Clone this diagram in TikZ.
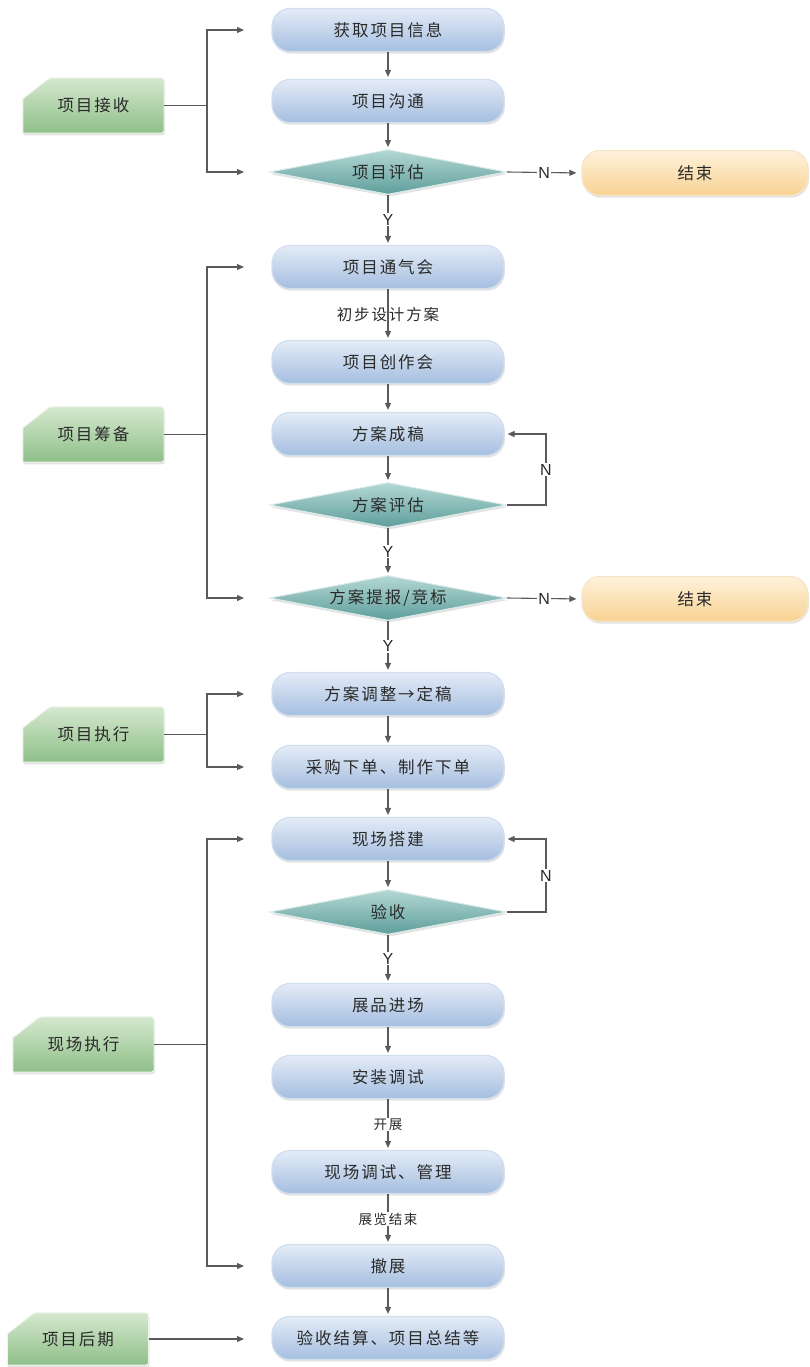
\documentclass[tikz,border=0pt]{standalone}
\usepackage{fontspec}
\newfontfamily\cjk[LetterSpace=12]{Noto Sans CJK SC}
\newfontfamily\lat{Liberation Sans}
\usetikzlibrary{shapes.geometric,shadows,arrows.meta,backgrounds,calc}
\definecolor{txt}{HTML}{2A2A2A}
\definecolor{lnc}{HTML}{5A5A5A}
\definecolor{bluetop}{HTML}{E4ECF7}
\definecolor{bluebot}{HTML}{A5BEE0}
\definecolor{blueedge}{HTML}{D2DEEE}
\definecolor{tealtop}{HTML}{B4D8D5}
\definecolor{tealbot}{HTML}{5E9E9B}
\definecolor{tealedge}{HTML}{DCECEB}
\definecolor{orgtop}{HTML}{FEF2DA}
\definecolor{orgbot}{HTML}{F8D293}
\definecolor{orgedge}{HTML}{F6E6C8}
\definecolor{grntop}{HTML}{D5E8CF}
\definecolor{grnbot}{HTML}{8EBF88}
\begin{document}
\begin{tikzpicture}[x=1pt,y=-1pt,
  ln/.style={draw=lnc, line width=1.1pt},
  arr/.style={ln, -{Triangle[length=7pt,width=6pt]}},
  shadowed/.style={drop shadow={opacity=0.22, shadow xshift=0.8pt, shadow yshift=-2.2pt}},
  procbox/.style={rounded corners=18pt, minimum width=232pt, minimum height=43pt,
    top color=bluetop, bottom color=bluebot, draw=blueedge, line width=1.2pt,
    shadowed, font=\cjk\fontsize{16.5}{18}\selectfont, text=txt},
  decbox/.style={diamond, aspect=5.2, minimum width=237pt, minimum height=45pt, inner sep=0pt,
    top color=tealtop, bottom color=tealbot, draw=tealedge, line width=1pt,
    shadowed, font=\cjk\fontsize{16.5}{18}\selectfont, text=txt},
  endbox/.style={rounded corners=18pt, minimum width=226pt, minimum height=45pt,
    top color=orgtop, bottom color=orgbot, draw=orgedge, line width=1.2pt,
    shadowed, font=\cjk\fontsize{16.5}{18}\selectfont, text=txt},
  phase/.style={minimum width=141pt, minimum height=55pt, inner sep=0pt,
    font=\cjk\fontsize{16.5}{18}\selectfont, text=txt},
  yn/.style={fill=white, inner sep=1pt, font=\lat\fontsize{16}{17}\selectfont, text=txt},
  elab/.style={font=\cjk\fontsize{15.5}{17}\selectfont, text=txt},
  slab/.style={fill=white, inner sep=1pt, font=\cjk\fontsize{13.5}{15}\selectfont, text=txt}
]
\useasboundingbox (0,0) rectangle (810,1367);

% process column
\node[procbox] (n1) at (388,30) {获取项目信息};
\node[procbox] (n2) at (388,101) {项目沟通};
\node[decbox]  (d1) at (388,172) {项目评估};
\node[endbox]  (e1) at (695,173) {结束};
\node[procbox] (n3) at (388,267) {项目通气会};
\node[procbox] (n4) at (388,362) {项目创作会};
\node[procbox] (n5) at (388,434) {方案成稿};
\node[decbox]  (d2) at (388,505) {方案评估};
\node[decbox]  (d3) at (388,598) {方案提报/竞标};
\node[endbox]  (e2) at (695,599) {结束};
\node[procbox] (n6) at (388,694) {方案调整→定稿};
\node[procbox] (n7) at (388,767) {采购下单、制作下单};
\node[procbox] (n8) at (388,839) {现场搭建};
\node[decbox]  (d4) at (388,912) {验收};
\node[procbox] (n9) at (388,1005) {展品进场};
\node[procbox] (n10) at (388,1077) {安装调试};
\node[procbox] (n11) at (388,1172) {现场调试、管理};
\node[procbox] (n12) at (388,1266) {撤展};
\node[procbox] (n13) at (388,1338) {验收结算、项目总结等};

% phase labels
\node[phase] (g1) at (93.5,105.5) {项目接收};
\node[phase] (g2) at (93.5,434.5) {项目筹备};
\node[phase] (g3) at (93.5,734.5) {项目执行};
\node[phase] (g4) at (83.5,1044.5) {现场执行};
\node[phase, minimum height=52pt] (g5) at (78,1339) {项目后期};

\begin{scope}[on background layer]
  \foreach \g in {g1,g2,g3,g4,g5}{
    \shade[top color=grntop, bottom color=grnbot, draw=white!85!grnbot, line width=1pt,
      rounded corners=3pt, shadowed]
      (\g.south west) -- (\g.south east) -- (\g.north east)
      -- ($(\g.north west)+(27,0)$) [sharp corners] -- ($(\g.north west)+(0,21)$) -- cycle;
  }
\end{scope}

% main flow
\draw[arr, shorten >=2pt] (n1) -- (n2);
\draw[arr, shorten >=2pt] (n2) -- (d1);
\draw[arr, shorten >=5pt] (d1.east) -- node[yn]{N} (e1.west);
\draw[arr, shorten >=2pt] (d1.south) -- node[yn]{Y} (n3.north);
\draw[arr, shorten >=2pt] (n3) -- node[elab]{初步设计方案} (n4);
\draw[arr, shorten >=2pt] (n4) -- (n5);
\draw[arr, shorten >=2pt] (n5) -- (d2.north);
\draw[arr, shorten >=3pt] (d2.east) -- ++(39,0) |- node[yn, pos=0.25]{N} (n5.east);
\draw[arr, shorten >=2pt] (d2.south) -- node[yn]{Y} (d3.north);
\draw[arr, shorten >=5pt] (d3.east) -- node[yn]{N} (e2.west);
\draw[arr, shorten >=2pt] (d3.south) -- node[yn]{Y} (n6.north);
\draw[arr, shorten >=2pt] (n6) -- (n7);
\draw[arr, shorten >=2pt] (n7) -- (n8);
\draw[arr, shorten >=2pt] (n8) -- (d4.north);
\draw[arr, shorten >=3pt] (d4.east) -- ++(39,0) |- node[yn, pos=0.25]{N} (n8.east);
\draw[arr, shorten >=2pt] (d4.south) -- node[yn]{Y} (n9.north);
\draw[arr, shorten >=2pt] (n9) -- (n10);
\draw[arr, shorten >=2pt] (n10) -- node[slab]{开展} (n11);
\draw[arr, shorten >=2pt] (n11) -- node[slab]{展览结束} (n12);
\draw[arr, shorten >=2pt] (n12) -- (n13);

% phase brackets
\coordinate (jx) at (207,0);
\coordinate (ax) at (244,0);
\draw[ln] (g1.east) -- (jx |- g1);
\draw[arr] (jx |- g1) |- (ax |- n1);
\draw[arr] (jx |- g1) |- (ax |- d1);
\draw[ln] (g2.east) -- (jx |- g2);
\draw[arr] (jx |- g2) |- (ax |- n3);
\draw[arr] (jx |- g2) |- (ax |- d3);
\draw[ln] (g3.east) -- (jx |- g3);
\draw[arr] (jx |- g3) |- (ax |- n6);
\draw[arr] (jx |- g3) |- (ax |- n7);
\draw[ln] (g4.east) -- (jx |- g4);
\draw[arr] (jx |- g4) |- (ax |- n8);
\draw[arr] (jx |- g4) |- (ax |- n12);
\draw[arr] (g5.east) -- (ax |- g5);
\end{tikzpicture}
\end{document}
